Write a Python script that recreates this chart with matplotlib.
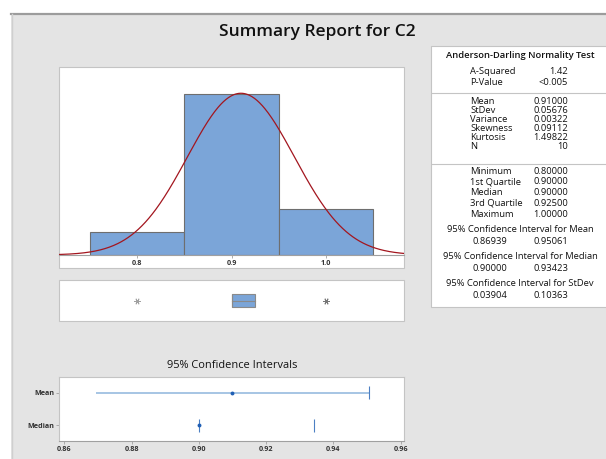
import matplotlib
matplotlib.use("Agg")
import matplotlib.pyplot as plt
from matplotlib.patches import Rectangle
import numpy as np

plt.rcParams.update({
    "font.family": "Open Sans",
    "axes.linewidth": 0.8,
})

W, H = 606, 459

# ---- data -----------------------------------------------------------
values = [0.80, 0.90, 0.90, 0.90, 0.90, 0.90, 0.90, 0.90, 1.00, 1.00]
bin_edges = [0.75, 0.85, 0.95, 1.05]

mean, stdev = 0.91000, 0.05676
q1, median, q3 = 0.90000, 0.90000, 0.92500
whisker_lo, whisker_hi = 0.90, 0.90
outliers = [0.80, 1.00, 1.00]

ci_rows = ["Mean", "Median"]
ci_centers = [0.91000, 0.90000]
ci_lower = [0.86939, 0.90000]
ci_upper = [0.95061, 0.93423]

ad_rows = [("A-Squared", "1.42"), ("P-Value", "<0.005")]
moment_rows = [("Mean", "0.91000"), ("StDev", "0.05676"), ("Variance", "0.00322"),
               ("Skewness", "0.09112"), ("Kurtosis", "1.49822"), ("N", "10")]
quant_rows = [("Minimum", "0.80000"), ("1st Quartile", "0.90000"),
              ("Median", "0.90000"), ("3rd Quartile", "0.92500"),
              ("Maximum", "1.00000")]
ci_text = [("95% Confidence Interval for Mean", "0.86939", "0.95061"),
           ("95% Confidence Interval for Median", "0.90000", "0.93423"),
           ("95% Confidence Interval for StDev", "0.03904", "0.10363")]

BAR = "#7ba5d8"
EDGE = "#6e6e6e"
PANEL_EDGE = "#c4c4c4"
TXT = "#111111"


def box(l, t, r, b):
    """pixel box (left, top, right, bottom) -> figure fraction rect"""
    return [l / W, 1 - b / H, (r - l) / W, (b - t) / H]


def fx(x):
    return x / W


def fy(y):
    return 1 - y / H


fig = plt.figure(figsize=(W / 100, H / 100), dpi=100, facecolor="white")

# grey report background
fig.patches.append(Rectangle((fx(11), 0), 1 - fx(11), fy(13), transform=fig.transFigure,
                             facecolor="#e4e4e4", edgecolor="none", zorder=-10))
fig.add_artist(plt.Line2D([fx(11), 1], [fy(13.5), fy(13.5)], color="#9c9c9c", lw=1.6))
fig.add_artist(plt.Line2D([fx(11.5), fx(11.5)], [0, fy(13.5)], color="#cfcfcf", lw=1))

fig.text(fx(317), fy(32), "Summary Report for C2", ha="center", va="center",
         fontsize=12.5, fontweight="semibold", color=TXT)


def white_panel(l, t, r, b):
    fig.patches.append(Rectangle((fx(l), fy(b)), fx(r) - fx(l), fy(t) - fy(b),
                                 transform=fig.transFigure, facecolor="white",
                                 edgecolor=PANEL_EDGE, lw=0.8, zorder=-5))


TICK_FS = 5.2

# ---- histogram with fitted normal ------------------------------------
white_panel(59, 67, 404, 268)
ax = fig.add_axes(box(59, 67, 404, 255))
ax.patch.set_alpha(0)
counts, _ = np.histogram(values, bins=bin_edges)
ax.bar(bin_edges[:-1], counts, width=np.diff(bin_edges), align="edge",
       color=BAR, edgecolor=EDGE, linewidth=0.8)
xs = np.linspace(0.717, 1.083, 400)
bw = bin_edges[1] - bin_edges[0]
pdf = np.exp(-0.5 * ((xs - mean) / stdev) ** 2) / (stdev * np.sqrt(2 * np.pi))
ax.plot(xs, pdf * len(values) * bw, color="#a3161f", lw=0.9)
ax.set_xlim(0.717, 1.083)
ax.set_ylim(0, 8.17)
ax.set_xticks([0.8, 0.9, 1.0], ["0.8", "0.9", "1.0"])
ax.set_yticks([])
for s in ["top", "left", "right"]:
    ax.spines[s].set_visible(False)
ax.spines["bottom"].set_color("#a0a0a0")
ax.tick_params(axis="x", length=2, width=0.6, color="#a0a0a0", labelsize=TICK_FS,
               labelcolor="#333333", pad=1.5)
for t in ax.get_xticklabels():
    t.set_fontweight("bold")

# ---- boxplot -----------------------------------------------------------
white_panel(59, 280, 404, 321)
axb = fig.add_axes(box(59, 280, 404, 321))
axb.patch.set_alpha(0)
stats = [dict(med=median, q1=q1, q3=q3, whislo=whisker_lo, whishi=whisker_hi,
              fliers=outliers)]
axb.bxp(stats, positions=[0.5], widths=0.34, vert=False, patch_artist=True,
        showcaps=False,
        boxprops=dict(facecolor=BAR, edgecolor="#8a8a8a", linewidth=0.8),
        medianprops=dict(color="#8a8a8a", linewidth=0.8),
        whiskerprops=dict(color="#8a8a8a", linewidth=0.8),
        flierprops=dict(marker=(6, 2, 90), markersize=4.5, markeredgecolor="#555555",
                        markeredgewidth=0.6, alpha=0.55))
axb.set_xlim(0.717, 1.083)
axb.set_ylim(0, 1)
axb.axis("off")

# ---- confidence intervals ------------------------------------------------
fig.text(fx(231.7), fy(366), "95% Confidence Intervals", ha="center", va="center",
         fontsize=7.9, color=TXT)
axc = fig.add_axes(box(59.3, 376.7, 404, 441))
axc.set_facecolor("white")
ypos = [1, 0]
LINE = "#9fc0e2"
DOT = "#1f5fb5"
axc.hlines(ypos[0], ci_lower[0], ci_upper[0], color=LINE, lw=1.3)
axc.vlines(ci_upper[0], ypos[0] - 0.19, ypos[0] + 0.19, color=DOT, lw=0.8, alpha=0.8)
axc.vlines([ci_lower[1], ci_upper[1]], ypos[1] - 0.19, ypos[1] + 0.19, color=DOT,
           lw=0.8, alpha=0.8)
axc.plot(ci_centers, ypos, "o", color=DOT, markersize=2.8, markeredgewidth=0)
axc.set_xlim(0.8585, 0.961)
axc.set_ylim(-0.48, 1.49)
axc.set_yticks(ypos, ci_rows)
axc.set_xticks([0.86, 0.88, 0.90, 0.92, 0.94, 0.96],
               ["0.86", "0.88", "0.90", "0.92", "0.94", "0.96"])
for s in axc.spines.values():
    s.set_color(PANEL_EDGE)
axc.spines["bottom"].set_color("#a0a0a0")
axc.tick_params(length=2, width=0.6, color="#a0a0a0", labelsize=TICK_FS,
                labelcolor="#333333", pad=1.5)
for t in axc.get_xticklabels() + axc.get_yticklabels():
    t.set_fontweight("bold")

# ---- statistics table -----------------------------------------------------
white_panel(431, 46, 607, 307)
TS = 6.75
LBL_X, VAL_X = 470, 568
fig.text(fx(520), fy(56), "Anderson-Darling Normality Test", ha="center", va="center",
         fontsize=TS, fontweight="semibold", color=TXT)
row_y = [71.7, 82.3]
for (lab, val), y in zip(ad_rows, row_y):
    fig.text(fx(LBL_X), fy(y), lab, ha="left", va="center", fontsize=TS, color=TXT)
    fig.text(fx(VAL_X), fy(y), val, ha="right", va="center", fontsize=TS, color=TXT)
fig.add_artist(plt.Line2D([fx(432), 1], [fy(93.3), fy(93.3)], color=PANEL_EDGE, lw=0.8))
for i, (lab, val) in enumerate(moment_rows):
    y = 101 + i * 9.15
    fig.text(fx(LBL_X), fy(y), lab, ha="left", va="center", fontsize=TS, color=TXT)
    fig.text(fx(VAL_X), fy(y), val, ha="right", va="center", fontsize=TS, color=TXT)
fig.add_artist(plt.Line2D([fx(432), 1], [fy(164), fy(164)], color=PANEL_EDGE, lw=0.8))
for i, (lab, val) in enumerate(quant_rows):
    y = 171 + i * 10.75
    fig.text(fx(LBL_X), fy(y), lab, ha="left", va="center", fontsize=TS, color=TXT)
    fig.text(fx(VAL_X), fy(y), val, ha="right", va="center", fontsize=TS, color=TXT)
for i, (head, lo, hi) in enumerate(ci_text):
    y = 230 + i * 26.7
    fig.text(fx(520), fy(y), head, ha="center", va="center", fontsize=TS, color=TXT)
    fig.text(fx(472.5), fy(y + 11.8), lo, ha="left", va="center", fontsize=TS, color=TXT)
    fig.text(fx(VAL_X), fy(y + 11.8), hi, ha="right", va="center", fontsize=TS, color=TXT)

fig.savefig("out.png", dpi=100, facecolor="white")
